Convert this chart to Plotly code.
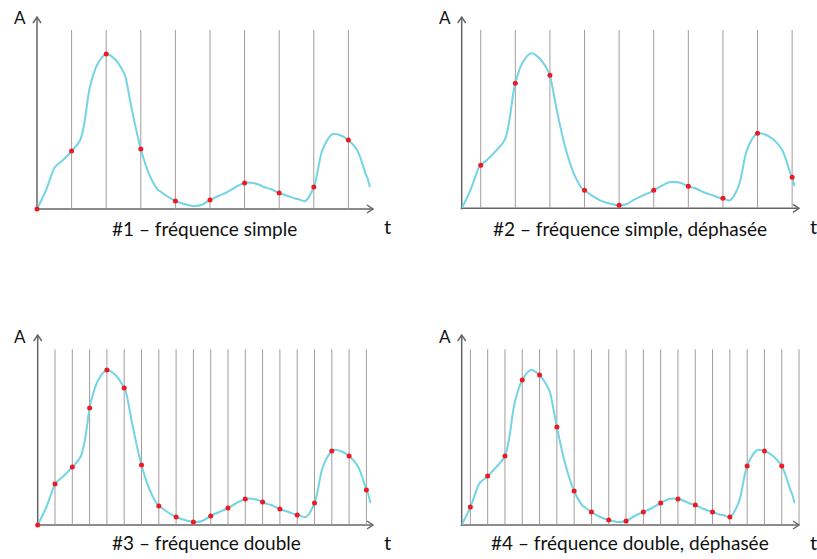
import plotly.graph_objects as go

W_PX, H_PX = 817, 559

# ---- data (t in sample-period units of panel #1, A in pixels) ----
curve_t = [0.00, 0.25, 0.50, 0.55, 0.75, 1.00, 1.25, 1.50, 1.55, 1.75, 2.00, 2.25,
           2.50, 2.55, 2.75, 3.00, 3.25, 3.50, 3.55, 3.75, 4.00, 4.25, 4.50, 4.55,
           4.75, 5.00, 5.25, 5.50, 5.55, 5.75, 6.00, 6.25, 6.50, 6.55, 6.75, 7.00,
           7.25, 7.50, 7.55, 7.75, 8.00, 8.25, 8.50, 8.55, 8.75, 9.00, 9.25, 9.50,
           9.55, 9.62]
curve_a = [0, 18, 41, 43, 49, 58, 69, 117, 125, 145, 155, 150,
           137, 133, 98, 60, 34, 19, 18, 13, 8, 5, 3, 3,
           4, 9, 13, 17, 18, 22, 26, 26, 23, 22, 20, 16,
           13, 10, 10, 8, 22, 59, 74, 75, 74, 69, 59, 35,
           31, 22]

# sampling instants (vertical lines) and sampled points per panel
lines1 = [1, 2, 3, 4, 5, 6, 7, 8, 9]
dots1 = [0, 1, 2, 3, 4, 5, 6, 7, 8, 9]
lines2 = [0.55, 1.55, 2.55, 3.55, 4.55, 5.55, 6.55, 7.55, 8.55, 9.55]
dots2 = lines2
lines3 = [0.5, 1, 1.5, 2, 2.5, 3, 3.5, 4, 4.5, 5, 5.5, 6, 6.5, 7, 7.5, 8, 8.5, 9, 9.5]
dots3 = [0] + lines3
lines4 = [0.25, 0.75, 1.25, 1.75, 2.25, 2.75, 3.25, 3.75, 4.25, 4.75, 5.25, 5.75,
          6.25, 6.75, 7.25, 7.75, 8.25, 8.75, 9.25, 9.75]
dots4 = lines4[:-1]

captions = ["#1 – fréquence simple", "#2 – fréquence simple, déphasée",
            "#3 – fréquence double", "#4 – fréquence double, déphasée"]

# ---- layout (window pixels) ----
SCALE = 34.6            # px per t unit
PANEL_W = 345
PANEL_H = 200
panels = [
    dict(ox=37.0, oy=209.0, top=30.0, tip_y=17.0, end_x=373.0, cap=(204, 228), A=(20, 18), T=(387, 226)),
    dict(ox=461.7, oy=208.3, top=30.0, tip_y=17.0, end_x=799.0, cap=(630, 228), A=(445, 18), T=(813, 226)),
    dict(ox=37.7, oy=525.0, top=349.3, tip_y=335.0, end_x=373.0, cap=(206, 542), A=(20, 336), T=(387, 542)),
    dict(ox=461.7, oy=525.0, top=349.3, tip_y=335.0, end_x=799.0, cap=(630, 542), A=(445, 336), T=(813, 542)),
]
all_lines = [lines1, lines2, lines3, lines4]
all_dots = [dots1, dots2, dots3, dots4]

lookup = {round(t, 2): a for t, a in zip(curve_t, curve_a)}

CURVE_C = "#72d4e4"
GRID_C = "#a39c9b"
AXIS_C = "#666666"
DOT_C = "#ee1a22"
FONT = "Lato"
TEXT_C = "#111111"

fig = go.Figure()
layout = dict(width=W_PX, height=H_PX, margin=dict(l=0, r=0, t=0, b=0),
              paper_bgcolor="white", plot_bgcolor="rgba(0,0,0,0)", showlegend=False)
shapes, annotations = [], []

def px(x):
    return x / W_PX

def py(y):
    return 1 - y / H_PX

for i, p in enumerate(panels):
    n = "" if i == 0 else str(i + 1)
    xa, ya = "x" + n, "y" + n
    right = min(W_PX, p["ox"] + PANEL_W)
    layout["xaxis" + n] = dict(domain=[px(p["ox"]), px(right)],
                               range=[0, (right - p["ox"]) / SCALE], visible=False, fixedrange=True)
    layout["yaxis" + n] = dict(domain=[py(p["oy"]), py(p["oy"] - PANEL_H)],
                               range=[0, PANEL_H], visible=False, fixedrange=True)
    hgt = p["oy"] - p["top"]
    # sampling lines
    lx, ly = [], []
    for t in all_lines[i]:
        lx += [t, t, None]
        ly += [0, hgt, None]
    fig.add_trace(go.Scatter(x=lx, y=ly, xaxis=xa, yaxis=ya, mode="lines",
                             line=dict(color=GRID_C, width=1), hoverinfo="skip", cliponaxis=False))
    # analog signal
    fig.add_trace(go.Scatter(x=curve_t, y=curve_a, xaxis=xa, yaxis=ya, mode="lines",
                             line=dict(color=CURVE_C, width=2, shape="spline", smoothing=1),
                             hoverinfo="skip", cliponaxis=False))
    # samples
    d = all_dots[i]
    fig.add_trace(go.Scatter(x=d, y=[lookup[round(t, 2)] for t in d], xaxis=xa, yaxis=ya,
                             mode="markers", marker=dict(color=DOT_C, size=5), hoverinfo="skip",
                             cliponaxis=False))
    # axes with open arrow heads
    ox, oy = p["ox"], p["oy"]
    shapes.append(dict(type="line", xref="paper", yref="paper", x0=px(ox), y0=py(oy + 1),
                       x1=px(ox), y1=py(p["tip_y"]), line=dict(color=AXIS_C, width=1.5), layer="below"))
    shapes.append(dict(type="line", xref="paper", yref="paper", x0=px(ox - 1), y0=py(oy),
                       x1=px(p["end_x"]), y1=py(oy), line=dict(color=AXIS_C, width=1.5), layer="below"))
    tx, ty = ox, p["tip_y"]
    shapes.append(dict(type="path", xref="paper", yref="paper",
                       path=f"M {px(tx-4)},{py(ty+6)} L {px(tx)},{py(ty)} L {px(tx+4)},{py(ty+6)}",
                       line=dict(color=AXIS_C, width=1.5)))
    ex = p["end_x"]
    shapes.append(dict(type="path", xref="paper", yref="paper",
                       path=f"M {px(ex-6)},{py(oy-4)} L {px(ex)},{py(oy)} L {px(ex-6)},{py(oy+4)}",
                       line=dict(color=AXIS_C, width=1.5)))
    # texts
    for txt, (x, y), size in [(captions[i], p["cap"], 19), ("A", p["A"], 17), ("t", p["T"], 20)]:
        annotations.append(dict(text=txt, x=px(x), y=py(y), xref="paper", yref="paper",
                                xanchor="center", yanchor="middle", showarrow=False,
                                font=dict(family=FONT, size=size, color=TEXT_C)))

layout["shapes"] = shapes
layout["annotations"] = annotations
fig.update_layout(**layout)
fig.write_html("out.html", config={"displayModeBar": False},
               post_script="document.body.style.margin='0px';document.body.style.overflow='hidden';")
